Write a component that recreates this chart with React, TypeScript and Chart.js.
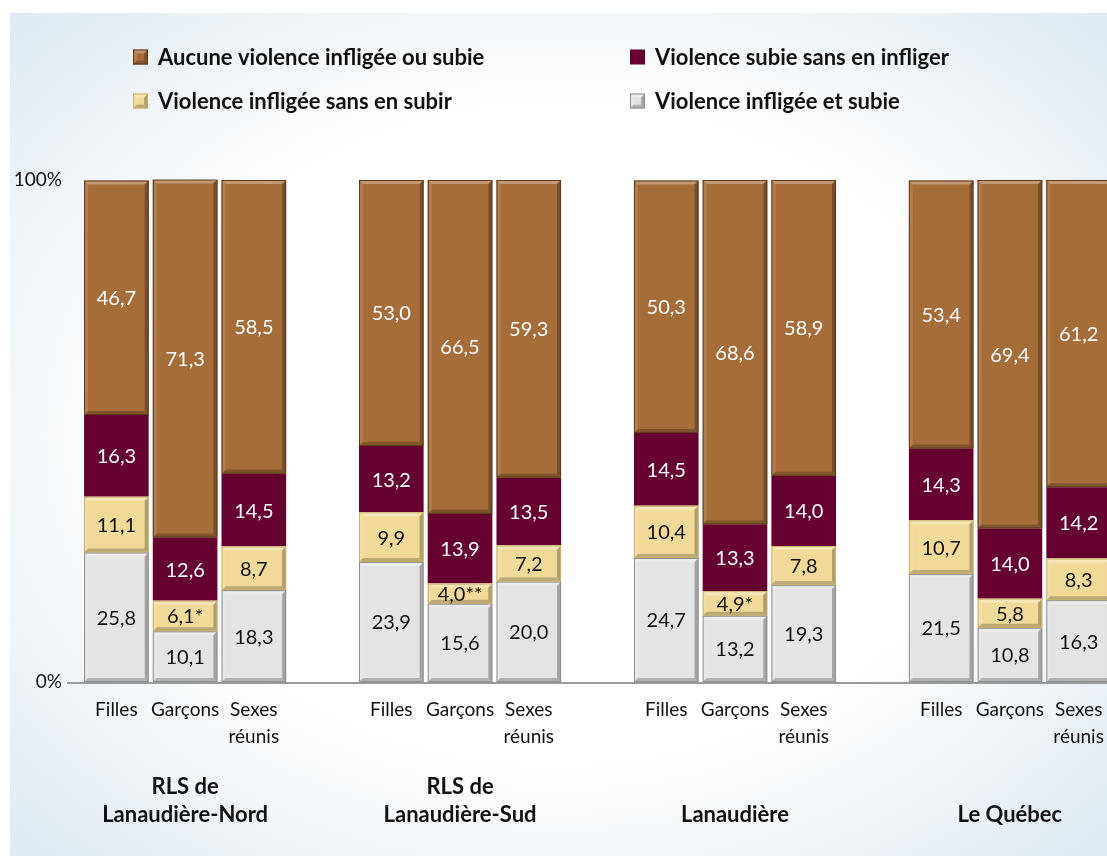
import React, { useEffect, useRef } from "react";
import { Chart, registerables } from "chart.js";

Chart.register(...registerables);

// ---- Data ----
const groups: string[][] = [
  ["RLS de", "Lanaudière-Nord"],
  ["RLS de", "Lanaudière-Sud"],
  ["Lanaudière"],
  ["Le Québec"],
];
const subCategories: (string | string[])[] = ["Filles", "Garçons", ["Sexes", "réunis"]];

const seriesNames = [
  "Violence infligée et subie",
  "Violence infligée sans en subir",
  "Violence subie sans en infliger",
  "Aucune violence infligée ou subie",
];

// values per group: [Filles, Garçons, Sexes réunis]
const infligeeEtSubie = [
  [25.8, 10.1, 18.3],
  [23.9, 15.6, 20.0],
  [24.7, 13.2, 19.3],
  [21.5, 10.8, 16.3],
];
const infligeeSansSubir = [
  [11.1, 6.1, 8.7],
  [9.9, 4.0, 7.2],
  [10.4, 4.9, 7.8],
  [10.7, 5.8, 8.3],
];
const infligeeSansSubirFlags = [
  ["", "*", ""],
  ["", "**", ""],
  ["", "*", ""],
  ["", "", ""],
];
const subieSansInfliger = [
  [16.3, 12.6, 14.5],
  [13.2, 13.9, 13.5],
  [14.5, 13.3, 14.0],
  [14.3, 14.0, 14.2],
];
const aucuneViolence = [
  [46.7, 71.3, 58.5],
  [53.0, 66.5, 59.3],
  [50.3, 68.6, 58.9],
  [53.4, 69.4, 61.2],
];
const yTickValues = [0, 100];

// ---- Styles ----
const FONT = "Lato, 'Open Sans', sans-serif";
const seriesColors = ["#e4e4e4", "#f1da98", "#66002f", "#a66d39"];
const seriesEdge = ["#8e8e8e", "#c9b26a", "#66002f", "#5e3c1a"];
const seriesBevel = [true, true, false, true];
const labelColors = ["#111111", "#111111", "#ffffff", "#ffffff"];

// flatten into chart categories with a blank slot between groups
function flatten<T>(perGroup: T[][], blank: T): T[] {
  const out: T[] = [];
  perGroup.forEach((g, i) => {
    out.push(...g);
    if (i < perGroup.length - 1) out.push(blank);
  });
  return out;
}
const labels = flatten(groups.map(() => subCategories), "" as string | string[]);
const seriesValues = [infligeeEtSubie, infligeeSansSubir, subieSansInfliger, aucuneViolence].map((s) =>
  flatten<number | null>(s, null)
);
const flags = [
  flatten(groups.map(() => ["", "", ""]), ""),
  flatten(infligeeSansSubirFlags, ""),
  flatten(groups.map(() => ["", "", ""]), ""),
  flatten(groups.map(() => ["", "", ""]), ""),
];

function bevelRect(ctx: CanvasRenderingContext2D, l: number, t: number, w: number, h: number, edge: string) {
  const r = l + w;
  const b = t + h;
  const d = Math.min(4, w / 4, h / 4);
  ctx.save();
  ctx.fillStyle = "rgba(255,255,255,0.30)";
  ctx.beginPath();
  ctx.moveTo(l, t);
  ctx.lineTo(r, t);
  ctx.lineTo(r - d, t + d);
  ctx.lineTo(l + d, t + d);
  ctx.closePath();
  ctx.fill();
  ctx.fillStyle = "rgba(255,255,255,0.12)";
  ctx.beginPath();
  ctx.moveTo(l, t);
  ctx.lineTo(l + d, t + d);
  ctx.lineTo(l + d, b - d);
  ctx.lineTo(l, b);
  ctx.closePath();
  ctx.fill();
  ctx.fillStyle = "rgba(0,0,0,0.28)";
  ctx.beginPath();
  ctx.moveTo(r, t);
  ctx.lineTo(r, b);
  ctx.lineTo(r - d, b - d);
  ctx.lineTo(r - d, t + d);
  ctx.closePath();
  ctx.fill();
  ctx.fillStyle = "rgba(0,0,0,0.22)";
  ctx.beginPath();
  ctx.moveTo(l, b);
  ctx.lineTo(r, b);
  ctx.lineTo(r - d, b - d);
  ctx.lineTo(l + d, b - d);
  ctx.closePath();
  ctx.fill();
  ctx.strokeStyle = edge;
  ctx.lineWidth = 1;
  ctx.strokeRect(l + 0.5, t + 0.5, w - 1, h - 1);
  ctx.restore();
}

const decorPlugin = {
  id: "decor",
  beforeDatasetsDraw(chart: any) {
    const { ctx, chartArea } = chart;
    ctx.save();
    ctx.strokeStyle = "#9a9a9a";
    ctx.lineWidth = 2;
    ctx.beginPath();
    ctx.moveTo(chartArea.left - 15, chartArea.bottom + 1);
    ctx.lineTo(chartArea.right + 20, chartArea.bottom + 1);
    ctx.stroke();
    ctx.restore();
  },
  afterDatasetsDraw(chart: any) {
    const { ctx } = chart;
    chart.data.datasets.forEach((ds: any, di: number) => {
      const meta = chart.getDatasetMeta(di);
      meta.data.forEach((bar: any, i: number) => {
        const v = ds.data[i];
        if (v == null) return;
        const top = Math.min(bar.y, bar.base);
        const bottom = Math.max(bar.y, bar.base);
        const left = bar.x - bar.width / 2;
        if (seriesBevel[di]) bevelRect(ctx, left, top, bar.width, bottom - top, seriesEdge[di]);
        ctx.save();
        ctx.fillStyle = labelColors[di];
        ctx.font = `20px ${FONT}`;
        ctx.textAlign = "center";
        ctx.textBaseline = "middle";
        const txt = v.toFixed(1).replace(".", ",") + (flags[di][i] || "");
        ctx.fillText(txt, bar.x, (top + bottom) / 2 + 1);
        ctx.restore();
      });
    });
  },
  afterDraw(chart: any) {
    const { ctx } = chart;
    const xScale = chart.scales.x;
    ctx.save();
    ctx.fillStyle = "#111111";
    ctx.font = `bold 22px ${FONT}`;
    ctx.textAlign = "center";
    ctx.textBaseline = "middle";
    groups.forEach((lines, g) => {
      const x = xScale.getPixelForValue(g * 4 + 1);
      const lastY = 815;
      lines.forEach((ln, k) => {
        ctx.fillText(ln, x, lastY - (lines.length - 1 - k) * 28);
      });
    });
    const legendOrder = [3, 2, 1, 0];
    const pos = [
      [133, 57],
      [630, 57],
      [133, 101],
      [630, 101],
    ];
    ctx.font = `bold 22px ${FONT}`;
    ctx.textAlign = "left";
    legendOrder.forEach((si, k) => {
      const [x, y] = pos[k];
      const s = 15;
      ctx.fillStyle = seriesColors[si];
      ctx.fillRect(x, y - s / 2, s, s);
      if (seriesBevel[si]) bevelRect(ctx, x, y - s / 2, s, s, seriesEdge[si]);
      ctx.fillStyle = "#111111";
      ctx.fillText(seriesNames[si], x + 25, y + 1);
    });
    ctx.restore();
  },
};

export default function App() {
  const ref = useRef<HTMLCanvasElement | null>(null);
  useEffect(() => {
    if (!ref.current) return;
    const chart = new Chart(ref.current, {
      type: "bar",
      data: {
        labels,
        datasets: seriesNames.map((name, i) => ({
          label: name,
          data: seriesValues[i],
          backgroundColor: seriesColors[i],
          borderWidth: 0,
          barPercentage: 0.94,
          categoryPercentage: 1,
        })),
      },
      options: {
        responsive: false,
        animation: false,
        layout: { padding: { left: 0, top: 180, right: 17, bottom: 0 } },
        plugins: { legend: { display: false }, tooltip: { enabled: false } },
        scales: {
          x: {
            stacked: true,
            grid: { display: false, drawTicks: false },
            border: { display: false },
            ticks: {
              color: "#111111",
              font: { family: FONT, size: 19, lineHeight: 1.42 },
              padding: 14,
              maxRotation: 0,
              autoSkip: false,
            },
            afterFit: (s: any) => {
              s.height = 174;
            },
          },
          y: {
            stacked: true,
            min: 0,
            max: 100,
            grid: { display: false, drawTicks: false },
            border: { display: false },
            afterBuildTicks: (s: any) => {
              s.ticks = yTickValues.map((v) => ({ value: v }));
            },
            ticks: {
              color: "#111111",
              font: { family: FONT, size: 19 },
              padding: 20,
              callback: (v: any) => `${v}%`,
            },
            afterFit: (s: any) => {
              s.width = 82;
            },
          },
        },
      },
      plugins: [decorPlugin],
    });
    return () => chart.destroy();
  }, []);

  return (
    <div
      style={{
        position: "fixed",
        left: 0,
        top: 0,
        width: 1107,
        height: 856,
        overflow: "hidden",
        background: "#ffffff",
      }}
    >
      <div
        style={{
          position: "absolute",
          left: 10,
          top: 13,
          right: 0,
          bottom: 0,
          background:
            "radial-gradient(ellipse 70% 70% at 50% 50%, #ffffff 55%, #dfeaf2 100%)",
        }}
      />
      <canvas ref={ref} width={1130} height={856} style={{ position: "absolute", left: 0, top: 0 }} />
    </div>
  );
}
